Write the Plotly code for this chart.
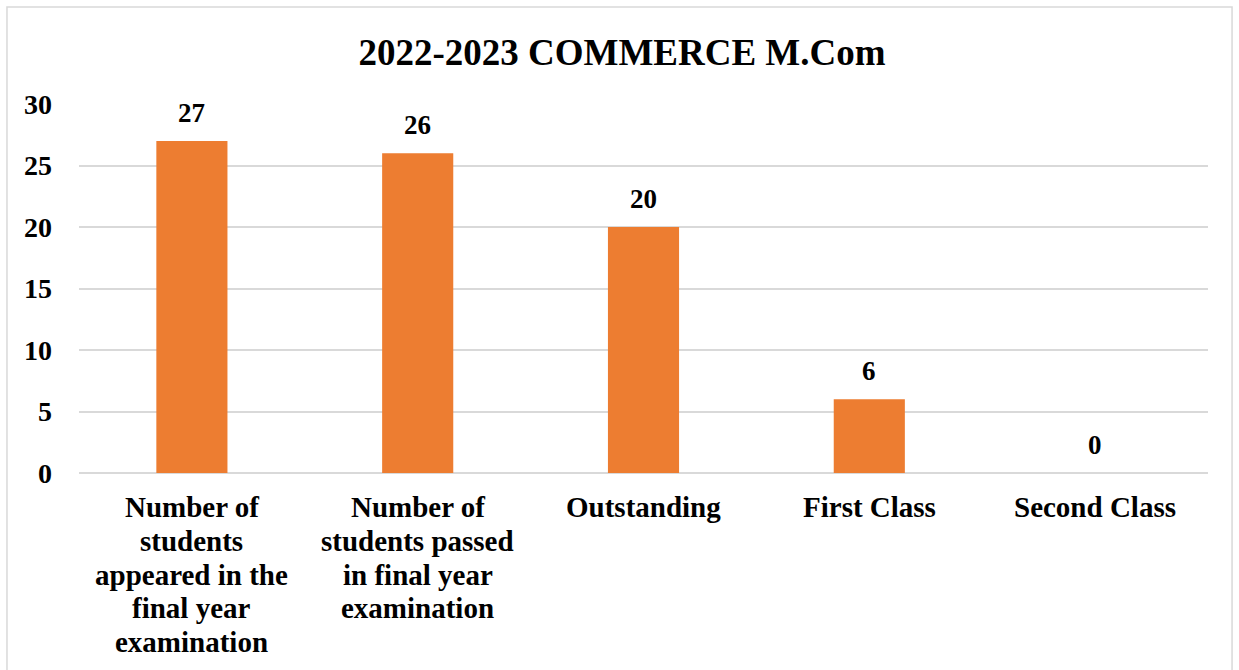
import plotly.graph_objects as go

categories = [
    "Number of<br>students<br>appeared in the<br>final year<br>examination",
    "Number of<br>students passed<br>in final year<br>examination",
    "Outstanding",
    "First Class",
    "Second Class",
]
counts = [27, 26, 20, 6, 0]
y_ticks = [0, 5, 10, 15, 20, 25, 30]

FONT = "Liberation Serif, Times New Roman, serif"
ORANGE = "#ED7D31"
GRID = "#D9D9D9"
LINE_STEP = 33.8   # spacing between wrapped category-label lines (px)
FIRST_LINE = 34    # first label line centre below the axis (px)

fig = go.Figure()
fig.add_trace(go.Bar(
    x=categories,
    y=counts,
    marker=dict(color=ORANGE, line=dict(width=0)),
    width=0.315,
    hoverinfo="y",
))

# value labels above each bar
for cat, val in zip(categories, counts):
    fig.add_annotation(
        x=cat, y=val, xref="x", yref="y",
        text=f"<b>{val}</b>", showarrow=False,
        yanchor="middle", yshift=28,
        font=dict(family=FONT, size=27, color="black"),
    )

# wrapped category labels, one annotation per line for tighter line spacing
for cat in categories:
    for i, line in enumerate(cat.split("<br>")):
        fig.add_annotation(
            x=cat, y=0, xref="x", yref="paper",
            text=f"<b>{line}</b>", showarrow=False,
            xanchor="center", yanchor="middle",
            yshift=-(FIRST_LINE + i * LINE_STEP),
            font=dict(family=FONT, size=29, color="black"),
        )

# outer chart border
fig.add_shape(
    type="rect", xref="paper", yref="paper",
    x0=-0.0638, x1=1.0213, y0=-0.65, y1=1.2629,
    line=dict(color=GRID, width=1.5), fillcolor="rgba(0,0,0,0)",
    layer="below",
)

fig.update_layout(
    width=1239, height=670,
    margin=dict(l=79, r=31, t=104, b=197),
    paper_bgcolor="white", plot_bgcolor="white",
    showlegend=False,
    title=dict(
        text="<b>2022-2023 COMMERCE M.Com</b>",
        x=622 / 1239, xref="container", xanchor="center",
        y=1 - 52 / 670, yref="container", yanchor="middle",
        font=dict(family=FONT, size=37, color="black"),
    ),
    font=dict(family=FONT, color="black"),
)

fig.update_xaxes(
    showgrid=False, showline=False, zeroline=False,
    showticklabels=False, ticks="",
)
fig.update_yaxes(
    range=[0, 30],
    tickvals=y_ticks,
    ticktext=[f"<b>{t}</b>" for t in y_ticks],
    showgrid=True, gridcolor=GRID, gridwidth=1.5,
    zeroline=True, zerolinecolor=GRID, zerolinewidth=1.5,
    showline=False, ticks="",
    tickfont=dict(family=FONT, size=28, color="black"),
    ticklabelstandoff=26,
)

fig.write_html("out.html")
